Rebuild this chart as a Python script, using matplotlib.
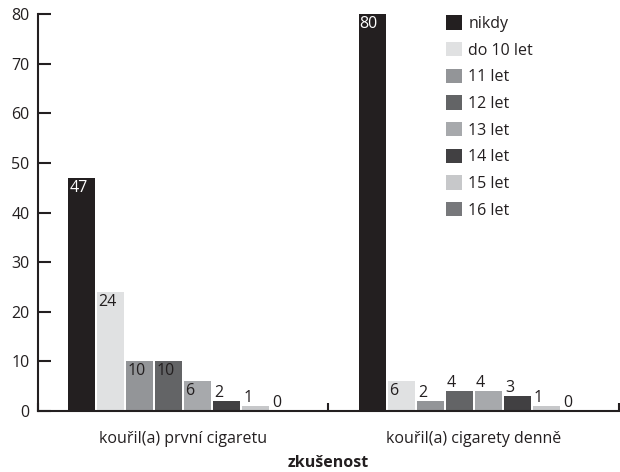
import matplotlib
matplotlib.use("Agg")
import matplotlib.pyplot as plt
import numpy as np

plt.rcParams['font.family'] = ['Open Sans', 'DejaVu Sans']

categories = ['kouřil(a) první cigaretu', 'kouřil(a) cigarety denně']
series = ['nikdy', 'do 10 let', '11 let', '12 let', '13 let', '14 let', '15 let', '16 let']
values = [
    [47, 80],
    [24, 6],
    [10, 2],
    [10, 4],
    [6, 4],
    [2, 3],
    [1, 1],
    [0, 0],
]
colors = ['#231f20', '#e0e1e2', '#939598', '#636466', '#a7a9ac', '#414042', '#c7c8ca', '#77787b']
text_colors = ['white'] + ['#231f20'] * 7
fs = 11.5

fig = plt.figure(figsize=(6.2, 4.72), dpi=100)
ax = fig.add_axes([0.0613, 0.129, 0.937, 0.841])

x = np.arange(len(categories))
step = 0.1
width = 0.093
for i, (name, vals) in enumerate(zip(series, values)):
    pos = x + (i - 3.5) * step
    ax.bar(pos, vals, width, color=colors[i], label=name)
    for p, v in zip(pos, vals):
        left = p - width / 2 + 0.004
        if v >= 5:
            ax.text(left, v - 0.4, str(v), ha='left', va='top', fontsize=fs,
                    color=text_colors[i])
        else:
            ax.text(left, v + 0.1, str(v), ha='left', va='bottom', fontsize=fs,
                    color='#231f20')

ax.set_xlim(-0.5, 1.5)
ax.set_ylim(0, 80)
ax.set_yticks(range(0, 81, 10))
ax.set_xticks([-0.5, 0.5, 1.5])
ax.set_xticklabels([])
ax.set_xticks(x, minor=True)
ax.set_xticklabels(categories, minor=True, fontsize=fs, color='#231f20')
ax.tick_params(axis='x', which='minor', length=0, pad=14)
ax.tick_params(axis='x', which='major', direction='in', length=6, width=1.5, color='#231f20')
ax.tick_params(axis='y', direction='in', length=9, width=1.5, color='#231f20',
               labelsize=fs, labelcolor='#231f20', pad=6)
for s in ['top', 'right']:
    ax.spines[s].set_visible(False)
for s in ['left', 'bottom']:
    ax.spines[s].set_linewidth(1.5)
    ax.spines[s].set_color('#231f20')

ax.set_xlabel('zkušenost', fontsize=fs, fontweight='bold', color='#231f20', labelpad=6)

leg = ax.legend(loc='upper left', bbox_to_anchor=(0.702, 0.997), frameon=False, fontsize=fs,
                handlelength=1.0, handleheight=1.0, handletextpad=0.4, labelspacing=0.63,
                borderpad=0, borderaxespad=0, labelcolor='#231f20')
leg.set_zorder(5)

fig.savefig('out.png', dpi=100)
